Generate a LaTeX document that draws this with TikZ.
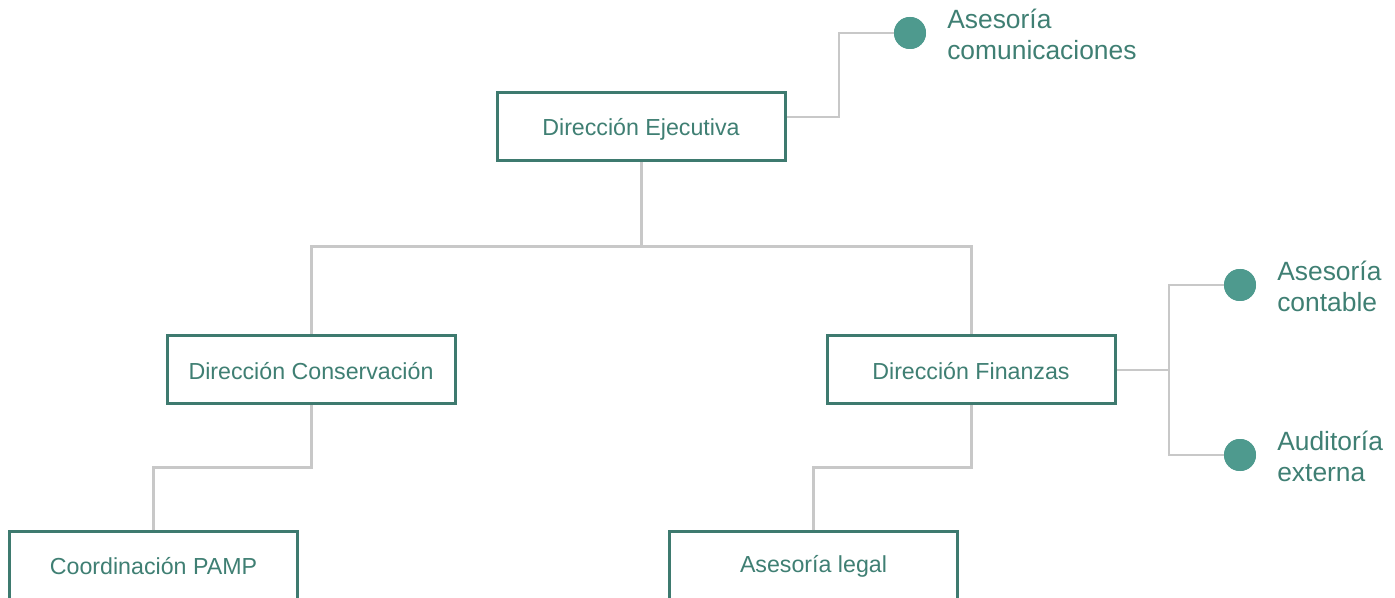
\documentclass[tikz,border=0pt]{standalone}
\usepackage{fontspec}
\setmainfont{Liberation Sans}
\definecolor{boxc}{HTML}{3E7A6F}
\definecolor{txtc}{HTML}{3F7F73}
\definecolor{dotc}{HTML}{4E9A8E}
\definecolor{linec}{HTML}{C8C8C8}
\tikzset{
  orgbox/.style={draw=boxc, line width=2.25pt, fill=white, minimum width=216pt, minimum height=51pt, inner sep=0pt},
  cutbox/.style={orgbox, minimum height=90pt},
  boxtext/.style={text=txtc, font=\fontsize{17.4}{20}\selectfont, inner sep=0pt},
  tree/.style={draw=linec, line width=2.25pt},
  side/.style={draw=linec, line width=1.5pt},
  dot/.style={circle, fill=dotc, minimum size=24pt, inner sep=0pt},
  sidelabel/.style={anchor=west, align=left, text=txtc, font=\fontsize{19.8}{23.25}\selectfont, inner sep=0pt}
}
\begin{document}
\begin{tikzpicture}[x=0.75pt,y=-0.75pt]
\useasboundingbox (0,0) rectangle (1395,598);
\clip (0,0) rectangle (1395,598);
% nodes
\node[orgbox] (ej) at (641,127) {};
\node[orgbox] (cons) at (311,369.5) {};
\node[orgbox] (fin) at (971,369.5) {};
\node[cutbox] (pamp) at (153.5,591) {};
\node[cutbox] (legal) at (813.5,591) {};
\node[dot] (d1) at (910,33) {};
\node[dot] (d2) at (1240,285) {};
\node[dot] (d3) at (1240,455) {};
% connectors
\coordinate (j1) at (641,247);
\coordinate (j2) at (311,467);
\coordinate (j3) at (971,467);
\coordinate (s1) at (839,117);
\coordinate (s2) at (1169,370);
\draw[tree] (ej.south) -- (j1);
\draw[tree] (j1) -| (cons.north);
\draw[tree] (j1) -| (fin.north);
\draw[tree] (cons.south) -- (j2) -| (pamp.north);
\draw[tree] (fin.south) -- (j3) -| (legal.north);
\draw[side] (ej.east |- s1) -- (s1) |- (d1.west);
\draw[side] (fin.east |- s2) -- (s2) |- (d2.west);
\draw[side] (s2) |- (d3.west);
% redraw boxes on top
\node[orgbox] at (ej) {};
\node[orgbox] at (cons) {};
\node[orgbox] at (fin) {};
\node[cutbox] at (pamp) {};
\node[cutbox] at (legal) {};
\node[boxtext] (tej) at (641,129) {Dirección Ejecutiva};
\node[boxtext] (tcons) at (311,371) {Dirección Conservación};
\node[boxtext] (tfin) at (971,371) {Dirección Finanzas};
\node[boxtext] (tpamp) at (153.5,566.5) {Coordinación PAMP};
\node[boxtext] (tlegal) at (813.5,566.5) {Asesoría legal};
\node[dot] at (d1) {};
\node[dot] at (d2) {};
\node[dot] at (d3) {};
% side labels
\node[sidelabel] (l1) at (947,34) {Asesoría\\comunicaciones};
\node[sidelabel] (l2) at (1277,286) {Asesoría\\contable};
\node[sidelabel] (l3) at (1277,456) {Auditoría\\externa};
\end{tikzpicture}
\end{document}
